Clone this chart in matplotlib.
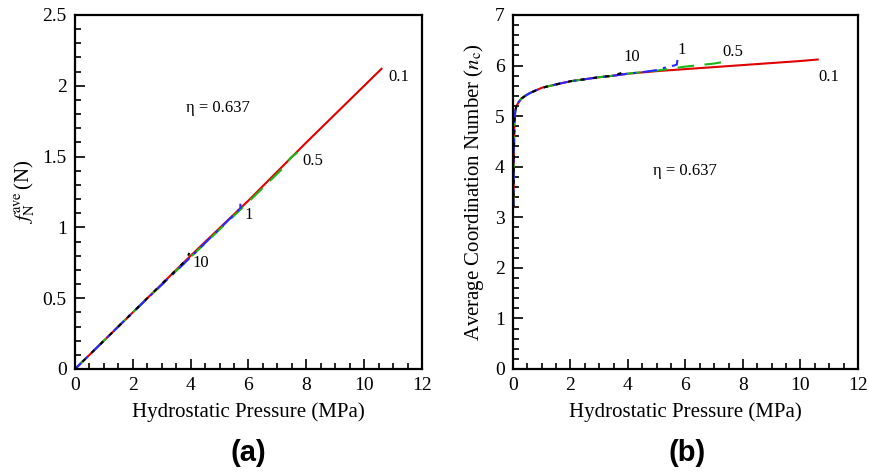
import matplotlib
matplotlib.use("Agg")
import matplotlib.pyplot as plt
from matplotlib.ticker import MultipleLocator

plt.rcParams['font.family'] = ['Liberation Serif', 'DejaVu Serif']
plt.rcParams['mathtext.fontset'] = 'stix'

# ---- Panel (a): average normal contact force vs hydrostatic pressure ----
a_p01_P = [0, 2, 4, 6, 8, 10.6]
a_p01_f = [0, 0.40, 0.80, 1.19, 1.60, 2.12]
a_p05_P = [0, 2, 4, 6, 7.2, 7.45, 7.7]
a_p05_f = [0, 0.40, 0.79, 1.18, 1.42, 1.49, 1.53]
a_p1_P = [0, 2, 4, 5.4, 5.65, 5.72, 5.72]
a_p1_f = [0, 0.40, 0.79, 1.07, 1.12, 1.17, 1.13]
a_p10_P = [0, 2, 3.7, 3.9, 3.95]
a_p10_f = [0, 0.40, 0.74, 0.79, 0.82]

# ---- Panel (b): average coordination number vs hydrostatic pressure ----
b_p01_P = [0.02, 0.03, 0.05, 0.08, 0.12, 0.2, 0.3, 0.45, 0.6, 0.8, 1.0, 1.3, 1.6, 2.0,
           2.5, 3.0, 3.5, 4.0, 5.0, 6.0, 7.0, 8.0, 9.0, 10.0, 10.6]
b_p01_n = [3.2, 4.2, 4.9, 5.1, 5.2, 5.28, 5.35, 5.41, 5.46, 5.51, 5.56, 5.6, 5.64, 5.69,
           5.73, 5.77, 5.8, 5.84, 5.89, 5.93, 5.97, 6.01, 6.05, 6.09, 6.12]
b_p05_P = [0.02, 0.03, 0.05, 0.08, 0.12, 0.2, 0.3, 0.45, 0.6, 0.8, 1.0, 1.3, 1.6, 2.0,
           2.5, 3.0, 3.5, 4.0, 5.0, 5.5, 6.0, 6.5, 7.0, 7.3]
b_p05_n = [3.2, 4.2, 4.9, 5.1, 5.2, 5.28, 5.35, 5.41, 5.46, 5.51, 5.56, 5.6, 5.64, 5.69,
           5.73, 5.77, 5.8, 5.84, 5.9, 5.94, 5.98, 6.01, 6.04, 6.07]
b_p1_P = [0.02, 0.03, 0.05, 0.08, 0.12, 0.2, 0.3, 0.45, 0.6, 0.8, 1.0, 1.3, 1.6, 2.0,
          2.5, 3.0, 3.5, 4.0, 4.5, 5.0, 5.35, 5.6, 5.7, 5.72]
b_p1_n = [3.2, 4.2, 4.9, 5.1, 5.2, 5.28, 5.35, 5.41, 5.46, 5.51, 5.56, 5.6, 5.64, 5.69,
          5.73, 5.77, 5.8, 5.84, 5.87, 5.91, 5.97, 6.0, 6.02, 6.11]
b_p10_P = [0.02, 0.03, 0.05, 0.08, 0.12, 0.2, 0.3, 0.45, 0.6, 0.8, 1.0, 1.3, 1.6, 2.0,
           2.5, 3.0, 3.5, 3.75, 3.85, 3.92]
b_p10_n = [3.2, 4.2, 4.9, 5.1, 5.2, 5.28, 5.35, 5.41, 5.46, 5.51, 5.56, 5.6, 5.64, 5.69,
           5.73, 5.77, 5.8, 5.85, 5.9, 5.97]

RED = '#e00000'
GREEN = '#18b818'
BLUE = '#2828ff'
BLACK = 'black'

fig = plt.figure(figsize=(8.69, 4.73), dpi=100)
axa = fig.add_axes([0.0863, 0.2199, 0.3993, 0.7484])
axb = fig.add_axes([0.5903, 0.2199, 0.3970, 0.7484])

def style(ax, ymax, ymaj, ymin):
    ax.set_xlim(0, 12)
    ax.set_ylim(0, ymax)
    ax.xaxis.set_major_locator(MultipleLocator(2))
    ax.xaxis.set_minor_locator(MultipleLocator(0.5))
    ax.yaxis.set_major_locator(MultipleLocator(ymaj))
    ax.yaxis.set_minor_locator(MultipleLocator(ymin))
    ax.tick_params(which='both', direction='in', top=False, right=False,
                   labelsize=14, width=1.2, pad=6)
    ax.tick_params(which='major', length=7)
    ax.tick_params(which='minor', length=4)
    for s in ax.spines.values():
        s.set_linewidth(1.6)
    ax.set_xlabel('Hydrostatic Pressure (MPa)', fontsize=15, labelpad=6)

lw = 1.5
# panel a
axa.plot(a_p01_P, a_p01_f, color=RED, lw=lw)
axa.plot(a_p05_P, a_p05_f, color=GREEN, lw=lw, ls=(0, (8, 5)))
axa.plot(a_p1_P, a_p1_f, color=BLUE, lw=lw, ls=(3, (7, 3, 1.5, 3)))
axa.plot(a_p10_P, a_p10_f, color=BLACK, lw=lw, ls=(1, (2, 4)))
style(axa, 2.5, 0.5, 0.1)
axa.yaxis.set_major_formatter(matplotlib.ticker.FuncFormatter(lambda v, p: f'{v:g}'))
axa.set_ylabel(r'$f_{\rm N}^{\rm ave}\,$(N)', fontsize=15, labelpad=4)
axa.text(4.95, 1.84, 'η = 0.637', fontsize=12, ha='center', va='center')
axa.text(10.85, 2.06, '0.1', fontsize=12, ha='left', va='center')
axa.text(7.85, 1.47, '0.5', fontsize=12, ha='left', va='center')
axa.text(5.85, 1.09, '1', fontsize=12, ha='left', va='center')
axa.text(4.05, 0.75, '10', fontsize=12, ha='left', va='center')

# panel b
axb.plot(b_p01_P, b_p01_n, color=RED, lw=lw)
axb.plot(b_p05_P, b_p05_n, color=GREEN, lw=lw, ls=(0, (8, 5)))
axb.plot(b_p1_P, b_p1_n, color=BLUE, lw=lw, ls=(3, (7, 3, 1.5, 3)))
axb.plot(b_p10_P, b_p10_n, color=BLACK, lw=lw, ls=(1, (2, 4)))
style(axb, 7, 1, 0.2)
axb.set_ylabel(r'Average Coordination Number ($n_{\rm c}$)', fontsize=15, labelpad=6)
axb.text(5.98, 3.92, 'η = 0.637', fontsize=12, ha='center', va='center')
axb.text(4.14, 6.17, '10', fontsize=12, ha='center', va='center')
axb.text(5.88, 6.3, '1', fontsize=12, ha='center', va='center')
axb.text(7.65, 6.27, '0.5', fontsize=12, ha='center', va='center')
axb.text(11.0, 5.77, '0.1', fontsize=12, ha='center', va='center')

fig.text(248 / 869, 1 - 453 / 473, '(a)', fontsize=21, fontweight='bold',
         family='Liberation Sans', ha='center', va='center')
fig.text(687 / 869, 1 - 453 / 473, '(b)', fontsize=21, fontweight='bold',
         family='Liberation Sans', ha='center', va='center')

fig.savefig('out.png', dpi=100)
